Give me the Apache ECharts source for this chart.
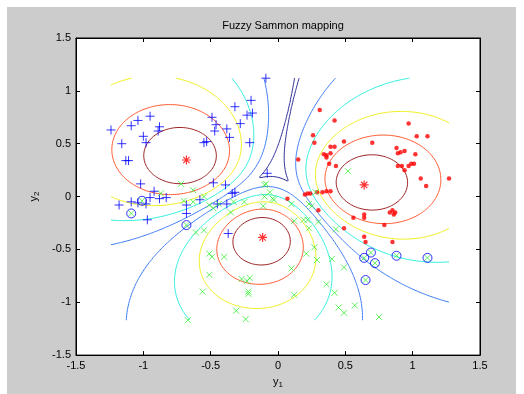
<!DOCTYPE html>
<html>
<head>
<meta charset="utf-8">
<script src="https://cdn.jsdelivr.net/npm/echarts@6/dist/echarts.min.js"></script>
<style>
  html, body { margin: 0; padding: 0; background: #fff; }
  #frame { position: absolute; left: 7px; top: 7px; width: 509px; height: 387px; background: #cccccc; }
  #main { position: absolute; left: 0; top: 0; width: 524px; height: 394px; }
</style>
</head>
<body>
<div id="frame"></div>
<div id="main"></div>
<script>
// projected cluster centres (red stars)
var centers = [[-0.68, 0.346], [0.64, 0.11], [-0.114, -0.387]];
var fuzzyM = 2;
// contour levels of the max membership and their colours
var levels = [0.4, 0.5, 0.6, 0.7, 0.8, 0.9];
var levelColors = ['#2c2c96', '#3d7cf5', '#30f0e0', '#f0f020', '#ff5a30', '#9a2020'];
var ticks = ['-1.5', '-1', '-0.5', '0', '0.5', '1', '1.5'];

// class 1 (+)
var bluePlus = [
  [-0.09, 1.12], [-0.20, 0.91], [-0.32, 0.85], [-0.19, 0.79], [-0.23, 0.77], [-0.49, 0.75],
  [-0.46, 0.68], [-0.28, 0.69], [-0.38, 0.64], [-0.47, 0.62], [-0.36, 0.56], [-0.21, 0.51],
  [-0.55, 0.51], [-0.53, 0.52], [-0.95, 0.76], [-1.04, 0.72], [-1.09, 0.67], [-0.88, 0.66],
  [-0.89, 0.62], [-1.24, 0.63], [-1.00, 0.57], [-0.98, 0.51], [-1.16, 0.50], [-1.13, 0.34],
  [-1.11, 0.34], [-1.02, 0.12], [-0.48, 0.13], [-0.39, 0.11], [-0.08, 0.22], [-0.92, 0.05],
  [-0.34, 0.03], [-0.32, 0.04], [-1.18, -0.08], [-1.09, -0.05], [-1.04, -0.06], [-0.98, -0.07],
  [-0.95, -0.01], [-0.88, -0.02], [-0.83, -0.01], [-0.97, -0.22], [-0.68, -0.08], [-0.68, -0.16],
  [-0.58, -0.03], [-0.45, -0.07], [-0.38, -0.07], [-0.37, -0.35]
];
// class 2 (.)
var redDots = [
  [0.31, 0.82], [0.42, 0.72], [0.26, 0.58], [0.27, 0.51], [0.49, 0.52], [0.70, 0.51],
  [0.97, 0.69], [1.03, 0.57], [1.11, 0.57], [0.39, 0.47], [0.42, 0.47], [0.34, 0.40],
  [0.36, 0.39], [0.39, 0.41], [0.36, 0.37], [0.15, 0.35], [0.38, 0.31], [0.43, 0.29],
  [0.88, 0.46], [0.89, 0.41], [0.91, 0.42], [0.94, 0.43], [1.02, 0.40], [0.89, 0.29],
  [0.92, 0.29], [0.97, 0.29], [0.99, 0.31], [1.01, 0.31], [0.94, 0.25], [1.06, 0.17],
  [1.10, 0.10], [1.27, 0.17], [0.20, 0.02], [0.22, 0.03], [0.24, 0.03], [0.29, 0.04],
  [0.33, 0.04], [0.36, 0.05], [0.39, 0.05], [0.07, -0.02], [0.30, -0.13], [0.49, -0.30],
  [0.64, -0.38], [0.65, -0.43], [0.85, -0.43], [0.56, -0.20], [0.64, -0.17], [0.64, -0.20],
  [0.79, -0.27], [0.83, -0.15], [0.85, -0.13], [0.87, -0.15], [0.86, -0.17]
];
// class 3 (x)
var greenX = [
  [-0.72, 0.12], [-0.63, 0.06], [-0.87, 0.03], [-1.01, -0.04], [-1.09, -0.16], [-0.70, -0.04],
  [-0.63, -0.05], [-0.55, 0.00], [-0.51, -0.08], [-0.48, -0.11], [-0.44, -0.07], [-0.35, -0.15],
  [-0.33, -0.05], [-0.25, -0.05], [-0.11, -0.09], [-0.10, 0.11], [-0.09, 0.12], [-0.06, 0.04],
  [-0.04, -0.02], [-0.10, 0.00], [-0.68, -0.27], [-0.61, -0.34], [-0.55, -0.32], [-0.51, -0.54],
  [-0.49, -0.57], [-0.40, -0.57], [-0.51, -0.74], [-0.56, -0.90], [-0.27, -0.78], [-0.21, -0.77],
  [-0.23, -0.80], [-0.22, -0.90], [-0.22, -0.92], [-0.31, -1.08], [-0.24, -1.16], [-0.67, -1.17],
  [-0.03, -0.03], [0.10, -0.07], [0.23, -0.07], [0.25, -0.09], [0.19, -0.22], [0.22, -0.22],
  [0.30, -0.24], [0.23, -0.30], [0.12, -0.23], [0.43, -0.31], [0.27, -0.48], [0.21, -0.54],
  [0.29, -0.60], [0.40, -0.59], [0.10, -0.68], [0.49, -0.67], [0.36, -0.83], [0.42, -0.91],
  [0.12, -0.93], [0.45, -1.05], [0.49, -1.10], [0.57, -1.03], [0.75, -1.14], [0.69, -0.53],
  [0.64, -0.58], [0.72, -0.63], [0.88, -0.56], [1.11, -0.58], [0.65, -0.79], [0.52, 0.24],
  [0.28, 0.04]
];
// misclassified points (o)
var circled = [
  [-1.09, -0.16], [-0.68, -0.27], [-1.01, -0.04], [0.69, -0.53], [0.64, -0.58],
  [0.72, -0.63], [0.88, -0.56], [1.11, -0.58], [0.65, -0.79]
];

// ---- membership field on the data bounding box ----
var allPts = bluePlus.concat(redDots, greenX);
var xmin = Math.min.apply(null, allPts.map(function (p) { return p[0]; }));
var xmax = Math.max.apply(null, allPts.map(function (p) { return p[0]; }));
var ymin = Math.min.apply(null, allPts.map(function (p) { return p[1]; }));
var ymax = Math.max.apply(null, allPts.map(function (p) { return p[1]; }));
var N = 160;
var xs = [], ys = [];
for (var i = 0; i < N; i++) {
  xs.push(xmin + (xmax - xmin) * i / (N - 1));
  ys.push(ymin + (ymax - ymin) * i / (N - 1));
}
function maxMembership(x, y) {
  var d = centers.map(function (c) { return Math.hypot(x - c[0], y - c[1]) + 1e-9; });
  var best = 0;
  for (var a = 0; a < d.length; a++) {
    var s = 0;
    for (var b = 0; b < d.length; b++) s += Math.pow(d[a] / d[b], 2 / (fuzzyM - 1));
    best = Math.max(best, 1 / s);
  }
  return best;
}
var field = [];
for (var j = 0; j < N; j++) {
  field.push([]);
  for (var i2 = 0; i2 < N; i2++) field[j].push(maxMembership(xs[i2], ys[j]));
}

// marching squares, segments chained into polylines
function contourLines(L) {
  var pts = {}, adj = new Map();
  function ep(key, x0, y0, v0, x1, y1, v1) {
    if (!pts[key]) {
      var t = (L - v0) / (v1 - v0);
      pts[key] = [x0 + t * (x1 - x0), y0 + t * (y1 - y0)];
    }
    return key;
  }
  function link(p, q) {
    if (!adj.has(p)) adj.set(p, []);
    if (!adj.has(q)) adj.set(q, []);
    adj.get(p).push(q);
    adj.get(q).push(p);
  }
  for (var j = 0; j < N - 1; j++) {
    for (var i = 0; i < N - 1; i++) {
      var a = field[j][i], b = field[j][i + 1], c = field[j + 1][i + 1], d = field[j + 1][i];
      var x0 = xs[i], x1 = xs[i + 1], y0 = ys[j], y1 = ys[j + 1];
      var A = a > L, B = b > L, C = c > L, D = d > L;
      var e = {};
      if (A !== B) e.bot = ep('h' + i + '_' + j, x0, y0, a, x1, y0, b);
      if (B !== C) e.rgt = ep('v' + (i + 1) + '_' + j, x1, y0, b, x1, y1, c);
      if (D !== C) e.top = ep('h' + i + '_' + (j + 1), x0, y1, d, x1, y1, c);
      if (A !== D) e.lft = ep('v' + i + '_' + j, x0, y0, a, x0, y1, d);
      var ks = Object.keys(e);
      if (ks.length === 2) link(e[ks[0]], e[ks[1]]);
      else if (ks.length === 4) {
        var mid = (a + b + c + d) / 4 > L;
        if ((A && mid) || (!A && !mid)) { link(e.bot, e.rgt); link(e.top, e.lft); }
        else { link(e.bot, e.lft); link(e.top, e.rgt); }
      }
    }
  }
  var lines = [];
  function walk(start) {
    var path = [pts[start]], cur = start;
    while (true) {
      var nb = adj.get(cur);
      if (!nb || !nb.length) break;
      var nxt = nb.pop();
      var back = adj.get(nxt);
      back.splice(back.indexOf(cur), 1);
      path.push(pts[nxt]);
      cur = nxt;
    }
    return path;
  }
  adj.forEach(function (v, k) { if (v.length === 1) lines.push(walk(k)); });
  adj.forEach(function (v, k) { while (v.length) lines.push(walk(k)); });
  return lines;
}

var contourSeries = levels.map(function (L, k) {
  return {
    type: 'lines',
    coordinateSystem: 'cartesian2d',
    polyline: true,
    silent: true,
    z: 1,
    lineStyle: { color: levelColors[k], width: 1, opacity: 1 },
    data: contourLines(L).map(function (p) { return { coords: p }; })
  };
});

var font = 'Liberation Sans, Arial, Helvetica, sans-serif';
function valueAxis(pos, showLabel) {
  return {
    type: 'value',
    position: pos,
    min: -1.5,
    max: 1.5,
    interval: 0.5,
    axisLine: { show: true, onZero: false, lineStyle: { color: '#000', width: 1 } },
    axisTick: { show: true, inside: true, length: 4, lineStyle: { color: '#000' } },
    splitLine: { show: false },
    axisLabel: {
      show: showLabel,
      color: '#000',
      fontFamily: font,
      fontSize: 11,
      margin: 5,
      formatter: function (v) { return ticks[Math.round((v + 1.5) / 0.5)]; }
    }
  };
}

var xBottom = valueAxis('bottom', true);
xBottom.name = '{a|y}{b|1}';
xBottom.nameLocation = 'middle';
xBottom.nameGap = 18;
xBottom.nameTextStyle = {
  color: '#000',
  rich: { a: { fontSize: 11, fontFamily: font, color: '#000' },
          b: { fontSize: 8, fontFamily: font, color: '#000', padding: [7, 0, 0, 0] } }
};
var yLeft = valueAxis('left', true);
yLeft.name = '{a|y}{b|2}';
yLeft.nameLocation = 'middle';
yLeft.nameGap = 33;
yLeft.nameRotate = 90;
yLeft.nameTextStyle = {
  color: '#000',
  rich: { a: { fontSize: 11, fontFamily: font, color: '#000' },
          b: { fontSize: 8, fontFamily: font, color: '#000', padding: [7, 0, 0, 0] } }
};

var option = {
  animation: false,
  backgroundColor: 'transparent',
  title: {
    text: 'Fuzzy Sammon mapping',
    left: 278,
    textAlign: 'center',
    top: 15,
    textStyle: { fontFamily: font, fontSize: 11, fontWeight: 'normal', color: '#000' }
  },
  grid: {
    left: 76, right: 44, top: 38, bottom: 37,
    show: true, backgroundColor: '#fff', borderColor: '#000', borderWidth: 1
  },
  xAxis: [xBottom, valueAxis('top', false)],
  yAxis: [yLeft, valueAxis('right', false)],
  series: contourSeries.concat([
    {
      type: 'scatter', z: 3, silent: true,
      symbol: 'path://M5 0L5 10M0 5L10 5', symbolSize: 9,
      itemStyle: { color: 'transparent', borderColor: '#0000ff', borderWidth: 1 },
      data: bluePlus
    },
    {
      type: 'scatter', z: 3, silent: true,
      symbol: 'circle', symbolSize: 4.5,
      itemStyle: { color: '#ff0000' },
      data: redDots
    },
    {
      type: 'scatter', z: 3, silent: true,
      symbol: 'path://M0 0L10 10M10 0L0 10', symbolSize: 6,
      itemStyle: { color: 'transparent', borderColor: '#3aee3a', borderWidth: 1 },
      data: greenX
    },
    {
      type: 'scatter', z: 4, silent: true,
      symbol: 'circle', symbolSize: 9,
      itemStyle: { color: 'transparent', borderColor: '#0000ff', borderWidth: 1 },
      data: circled
    },
    {
      type: 'scatter', z: 5, silent: true,
      symbol: 'path://M5 0L5 10M0 5L10 5M1.5 1.5L8.5 8.5M8.5 1.5L1.5 8.5', symbolSize: 9,
      itemStyle: { color: 'transparent', borderColor: '#ff0000', borderWidth: 1.2 },
      data: centers
    }
  ])
};

var myChart = echarts.init(document.getElementById('main'), null, { renderer: 'canvas' });
myChart.setOption(option);
</script>
</body>
</html>
